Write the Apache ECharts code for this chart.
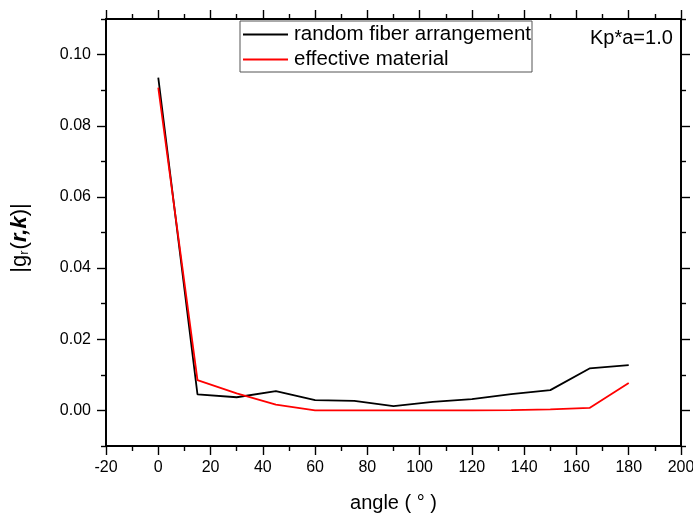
<!DOCTYPE html>
<html><head><meta charset="utf-8">
<script src="https://cdn.jsdelivr.net/npm/echarts@6/dist/echarts.min.js"></script>
<style>html,body{margin:0;padding:0;background:#fff}#c{width:693px;height:514px}</style>
</head><body><div id="c"></div>
<script>
const angles = [0, 15, 30, 45, 60, 75, 90, 105, 120, 135, 150, 165, 180];
const randomFiber = [0.0935, 0.0045, 0.0037, 0.0054, 0.0029, 0.0027, 0.0012, 0.0024, 0.0032, 0.0046, 0.0057, 0.0118, 0.0127];
const effectiveMat = [0.0907, 0.0085, 0.0048, 0.0016, 0.0000, 0.0000, 0.0000, 0.0000, 0.0000, 0.0001, 0.0003, 0.0007, 0.0077];
const yMajor = [0, 0.02, 0.04, 0.06, 0.08, 0.10];
const yMinor = [-0.01, 0.01, 0.03, 0.05, 0.07, 0.09, 0.11];
const seriesNames = ['random fiber arrangement', 'effective material'];

const FONT = 'Liberation Sans, Arial, sans-serif';
const chart = echarts.init(document.getElementById('c'));
const grid = {left: 106, right: 12, top: 19, bottom: 68, outerBoundsMode: 'none', containLabel: false};
const axLine = {show: true, onZero: false, lineStyle: {color: '#000', width: 1.8}};
function xAx(pos, labels) {
  return {
    type: 'value', position: pos, min: -20, max: 200, interval: 20,
    axisLine: axLine,
    axisTick: {show: true, inside: false, length: 9, lineStyle: {color: '#000', width: 1.4}},
    minorTick: {show: true, splitNumber: 2, length: 5, lineStyle: {color: '#000', width: 1.4}},
    splitLine: {show: false},
    axisLabel: labels ? {show: true, fontSize: 16, color: '#000', fontFamily: FONT, margin: 14} : {show: false},
    name: labels ? 'angle ( ° )' : '', nameLocation: 'middle', nameGap: 47,
    nameTextStyle: {fontSize: 20, color: '#000', fontFamily: FONT}
  };
}
function yAx(pos, values, len, labels) {
  return {
    type: 'value', position: pos, min: -0.01, max: 0.11,
    axisLine: axLine,
    axisTick: {show: true, inside: false, length: len, customValues: values, lineStyle: {color: '#000', width: 1.4}},
    splitLine: {show: false},
    axisLabel: labels ? {show: true, fontSize: 16, color: '#000', fontFamily: FONT, margin: 15, customValues: values,
      formatter: v => v.toFixed(2)} : {show: false}
  };
}
chart.setOption({
  backgroundColor: '#fff',
  animation: false,
  grid: grid,
  xAxis: [xAx('bottom', true), xAx('top', false)],
  yAxis: [yAx('left', yMajor, 9, true), yAx('left', yMinor, 5, false), yAx('right', yMajor, 9, false), yAx('right', yMinor, 5, false)],
  legend: {
    orient: 'vertical', left: 240, top: 21,
    data: seriesNames,
    icon: 'rect',
    itemWidth: 45, itemHeight: 1.8, itemGap: 4,
    padding: [3, 1, 2, 3],
    borderColor: '#555', borderWidth: 1,
    textStyle: {fontSize: 20.5, lineHeight: 21, color: '#000', fontFamily: FONT, padding: [0, 0, 0, 1]}
  },
  graphic: [
    {type: 'text', left: 590, top: 28, style: {text: 'Kp*a=1.0', fontSize: 20, fill: '#000', fontFamily: FONT}},
    {type: 'text', x: 20, y: 238, rotation: Math.PI / 2,
      style: {
        text: '{n||g}{s|r}{n|(}{b|r,k}{n|)|}',
        align: 'center', verticalAlign: 'middle', fill: '#000',
        rich: {
          n: {fontSize: 22, fontFamily: FONT, fill: '#000'},
          s: {fontSize: 13, fontFamily: FONT, fill: '#000', verticalAlign: 'bottom', padding: [9, 1, 0, 0]},
          b: {fontSize: 22, fontFamily: FONT, fill: '#000', fontWeight: 'bold', fontStyle: 'italic'}
        }
      }}
  ],
  series: [
    {name: seriesNames[0], type: 'line', symbol: 'none', data: angles.map((a, i) => [a, randomFiber[i]]),
      lineStyle: {color: '#000', width: 1.8}, itemStyle: {color: '#000'}},
    {name: seriesNames[1], type: 'line', symbol: 'none', data: angles.map((a, i) => [a, effectiveMat[i]]),
      lineStyle: {color: '#ff0000', width: 1.8}, itemStyle: {color: '#ff0000'}}
  ]
});
</script></body></html>
